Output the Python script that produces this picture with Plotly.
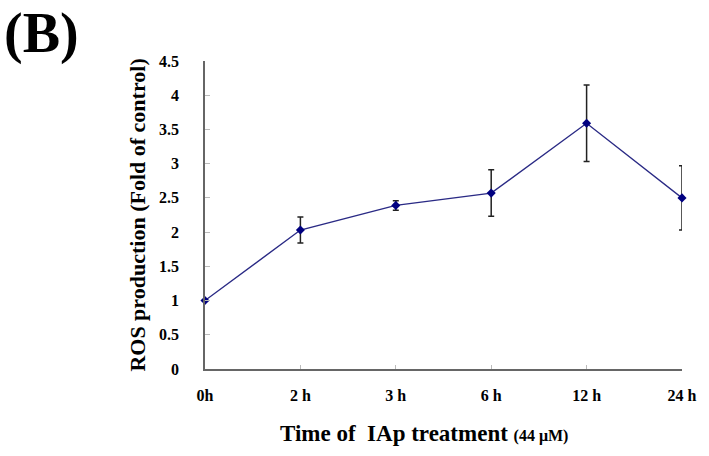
import plotly.graph_objects as go

categories = ["0h", "2 h", "3 h", "6 h", "12 h", "24 h"]
ros_values = [1.0, 2.03, 2.39, 2.57, 3.59, 2.50]
ros_errors = [0.0, 0.19, 0.07, 0.34, 0.56, 0.47]
y_ticks = [0, 0.5, 1, 1.5, 2, 2.5, 3, 3.5, 4, 4.5]
y_tick_labels = ["0", "0.5", "1", "1.5", "2", "2.5", "3", "3.5", "4", "4.5"]

x_pos = list(range(len(categories)))
FONT = "Liberation Serif, Times New Roman, serif"

fig = go.Figure()
fig.add_trace(go.Scatter(
    x=x_pos, y=ros_values,
    mode="lines+markers",
    line=dict(color="#2a2a85", width=1.4),
    marker=dict(symbol="diamond", size=7, color="#000080"),
    error_y=dict(type="data", array=ros_errors, visible=True,
                 color="#222222", thickness=1.5, width=3),
    cliponaxis=False,
    showlegend=False,
))

fig.update_layout(
    width=709, height=456,
    margin=dict(l=205, r=25, t=61, b=87),
    paper_bgcolor="white", plot_bgcolor="white",
    font=dict(family=FONT, color="black"),
    xaxis=dict(
        range=[0, 5], tickvals=x_pos,
        ticktext=["<b>%s</b>" % c for c in categories],
        showgrid=False, zeroline=False,
        showline=True, linecolor="#666666", linewidth=1.5,
        ticks="inside", ticklen=4, tickcolor="#bbbbbb",
        tickfont=dict(size=16, family=FONT),
        ticklabelstandoff=11,
    ),
    yaxis=dict(
        range=[0, 4.5], tickvals=y_ticks,
        ticktext=["<b>%s</b>" % t for t in y_tick_labels],
        showgrid=False, zeroline=False,
        showline=True, linecolor="#666666", linewidth=1.5,
        ticks="inside", ticklen=5, tickcolor="#bbbbbb",
        tickfont=dict(size=16, family=FONT),
        ticklabelstandoff=21,
    ),
)

fig.add_annotation(
    text="<b>ROS production (Fold of control)</b>",
    xref="paper", yref="paper", x=0, y=0.498,
    xanchor="center", yanchor="middle", xshift=-67,
    textangle=-90, showarrow=False,
    font=dict(size=22, family=FONT),
)
fig.add_annotation(
    text="<b>Time of&nbsp; IAp treatment <span style='font-size:16px'>(44 μM)</span></b>",
    xref="paper", yref="paper", x=0.459, y=0,
    xanchor="center", yanchor="middle", yshift=-64,
    showarrow=False,
    font=dict(size=23, family=FONT),
)
fig.add_annotation(
    text="<b>(B)</b>",
    xref="paper", yref="paper", x=0, y=1,
    xanchor="left", yanchor="top", xshift=-203, yshift=61,
    showarrow=False,
    font=dict(size=56, family=FONT),
)

# remove the default 8px page margin so the figure fills the window
fig.write_html("out.html", config={"displayModeBar": False},
               post_script="document.body.style.margin='0';")
